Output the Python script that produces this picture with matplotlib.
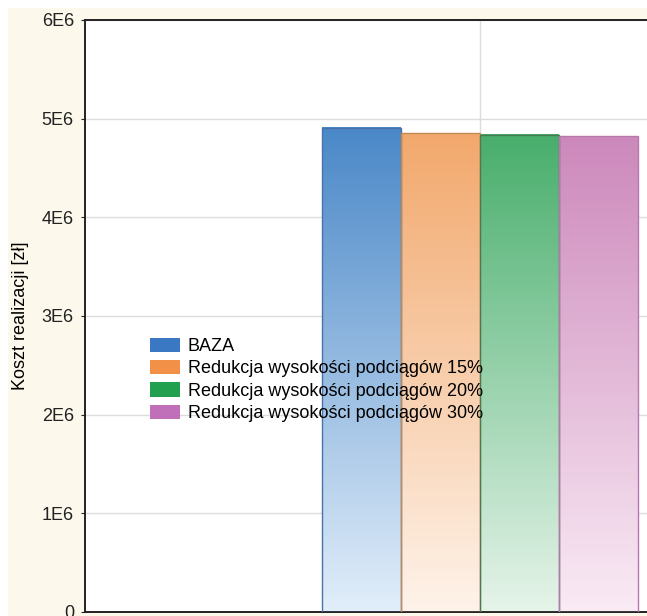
import numpy as np
import matplotlib.pyplot as plt
from matplotlib.patches import Rectangle
from matplotlib.colors import to_rgb

plt.rcParams['font.family'] = ['Liberation Sans', 'DejaVu Sans']

labels = ['BAZA',
          'Redukcja wysokości podciągów 15%',
          'Redukcja wysokości podciągów 20%',
          'Redukcja wysokości podciągów 30%']
values = [4.91e6, 4.85e6, 4.835e6, 4.82e6]
yticks = [0, 1e6, 2e6, 3e6, 4e6, 5e6, 6e6]
ytick_labels = ['0', '1E6', '2E6', '3E6', '4E6', '5E6', '6E6']

top_cols = ['#4a88c8', '#f2a86c', '#48ae6c', '#cc88bb']
bot_cols = ['#e2eefa', '#fef3ea', '#e6f4ea', '#faebf5']
edge_cols = ['#4a72a8', '#c08a55', '#4a7a52', '#b478ac']
leg_cols = ['#3a78c4', '#f39048', '#22a050', '#c070b8']

W, H = 647, 616
fig = plt.figure(figsize=(W / 100, H / 100), dpi=100, facecolor='white')
fig.patches.append(Rectangle((8 / W, 0), 1, (H - 8) / H, transform=fig.transFigure,
                             facecolor='#fdf8ec', edgecolor='none', zorder=-10))

ax = fig.add_axes([85 / W, 4 / H, 790 / W, 592 / H])
ax.set_facecolor('white')

width = 0.1
offsets = (np.arange(len(values)) - 1.5) * width
for i, v in enumerate(values):
    x0 = offsets[i] - width / 2
    t = np.linspace(0, 1, 256)[:, None]
    c0 = np.array(to_rgb(bot_cols[i]))
    c1 = np.array(to_rgb(top_cols[i]))
    grad = (c0 * (1 - t) + c1 * t)[:, None, :]
    ax.imshow(grad, extent=(x0, x0 + width, 0, v), origin='lower',
              aspect='auto', zorder=2, interpolation='bilinear')
    ax.bar(offsets[i], v, width, facecolor='none', edgecolor=edge_cols[i],
           linewidth=1, zorder=3)
    ax.bar(0, 0, 0, color=leg_cols[i], label=labels[i])
ax.set_xlim(-0.5, 0.5)
ax.set_ylim(0, 6e6)

ax.set_yticks(yticks)
ax.set_yticklabels(ytick_labels)
ax.set_xticks([0])
ax.set_xticklabels([''])
ax.grid(True, color='#dcdcdc', linewidth=1, zorder=0)
ax.set_axisbelow(True)
ax.tick_params(axis='y', length=3, labelsize=13, colors='#222222', pad=5)
ax.tick_params(axis='x', length=3, direction='in')
for s in ax.spines.values():
    s.set_linewidth(1.4)
    s.set_color('#222222')

ax.set_ylabel('Koszt realizacji [zł]', fontsize=13)
ax.yaxis.set_label_coords(-56 / 790, (612 - 316) / 592)

leg = ax.legend(loc='upper left', bbox_to_anchor=(0.082, 0.463), frameon=False,
                fontsize=13, handlelength=1.67, handleheight=0.83,
                handletextpad=0.44, labelspacing=0.27, borderaxespad=0,
                borderpad=0)
leg.set_zorder(5)

fig.savefig('out.png', dpi=100, facecolor=fig.get_facecolor())
